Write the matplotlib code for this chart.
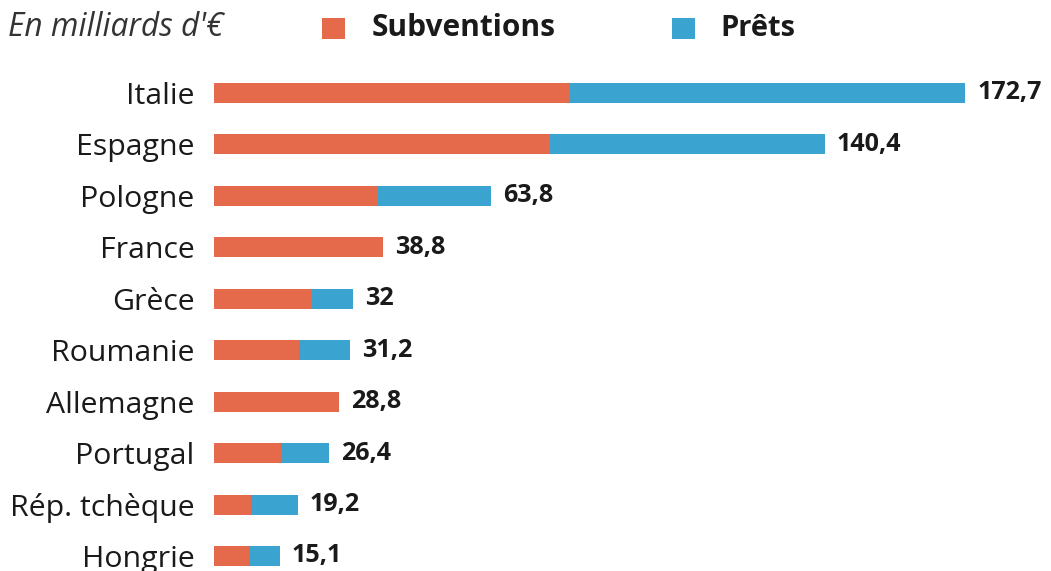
import matplotlib
matplotlib.use("Agg")
import matplotlib.pyplot as plt
from matplotlib.patches import Rectangle

countries = ["Italie", "Espagne", "Pologne", "France", "Grèce", "Roumanie",
             "Allemagne", "Portugal", "Rép. tchèque", "Hongrie"]
subventions = [81.8, 77.3, 37.7, 38.8, 22.5, 19.6, 28.8, 15.5, 8.4, 8.0]
prets = [90.9, 63.1, 26.1, 0.0, 9.5, 11.6, 0.0, 10.9, 10.8, 7.1]
totals = ["172,7", "140,4", "63,8", "38,8", "32", "31,2", "28,8", "26,4", "19,2", "15,1"]

ORANGE = "#E5694B"
BLUE = "#3AA3CF"
FONT = "Open Sans"

W, H = 1051, 571
fig = plt.figure(figsize=(W / 100, H / 100), dpi=100)
fig.patch.set_facecolor("white")

left_px = 214
scale = 4.349  # px per unit
ax = fig.add_axes([left_px / W, 0, 1 - left_px / W, 1])
row0, step = 93, 51.44
ax.set_ylim((H - row0) / step, -row0 / step)
ax.set_xlim(0, (W - left_px) / scale)

y = list(range(len(countries)))
bh = 20 / step
ax.barh(y, subventions, height=bh, color=ORANGE, linewidth=0)
ax.barh(y, prets, left=subventions, height=bh, color=BLUE, linewidth=0)

for i, (s, p, t) in enumerate(zip(subventions, prets, totals)):
    ax.text(s + p + 12 / scale, i, t, va="center", ha="left", fontsize=18.1,
            fontweight="bold", family=FONT, color="#1a1a1a")

ax.set_yticks(y)
ax.set_yticklabels(countries, fontsize=21.8, family=FONT, color="#1a1a1a")
ax.tick_params(axis="y", length=0, pad=14)
ax.tick_params(axis="x", bottom=False, labelbottom=False)
for sp in ax.spines.values():
    sp.set_visible(False)
ax.set_facecolor("none")

# header
fig.text(8 / W, 1 - 28 / H, "En milliards d'€", fontsize=22.8, style="italic",
         family=FONT, color="#333333", va="center", ha="left")
fig.patches.append(Rectangle((322 / W, 1 - 39 / H), 23 / W, 21 / H,
                             transform=fig.transFigure, color=ORANGE, linewidth=0))
fig.text(372 / W, 1 - 28 / H, "Subventions", fontsize=21.5, fontweight="bold",
         family=FONT, color="#1a1a1a", va="center", ha="left")
fig.patches.append(Rectangle((672 / W, 1 - 39 / H), 23 / W, 21 / H,
                             transform=fig.transFigure, color=BLUE, linewidth=0))
fig.text(720 / W, 1 - 28 / H, "Prêts", fontsize=21, fontweight="bold",
         family=FONT, color="#1a1a1a", va="center", ha="left")

fig.savefig("out.png", dpi=100)
